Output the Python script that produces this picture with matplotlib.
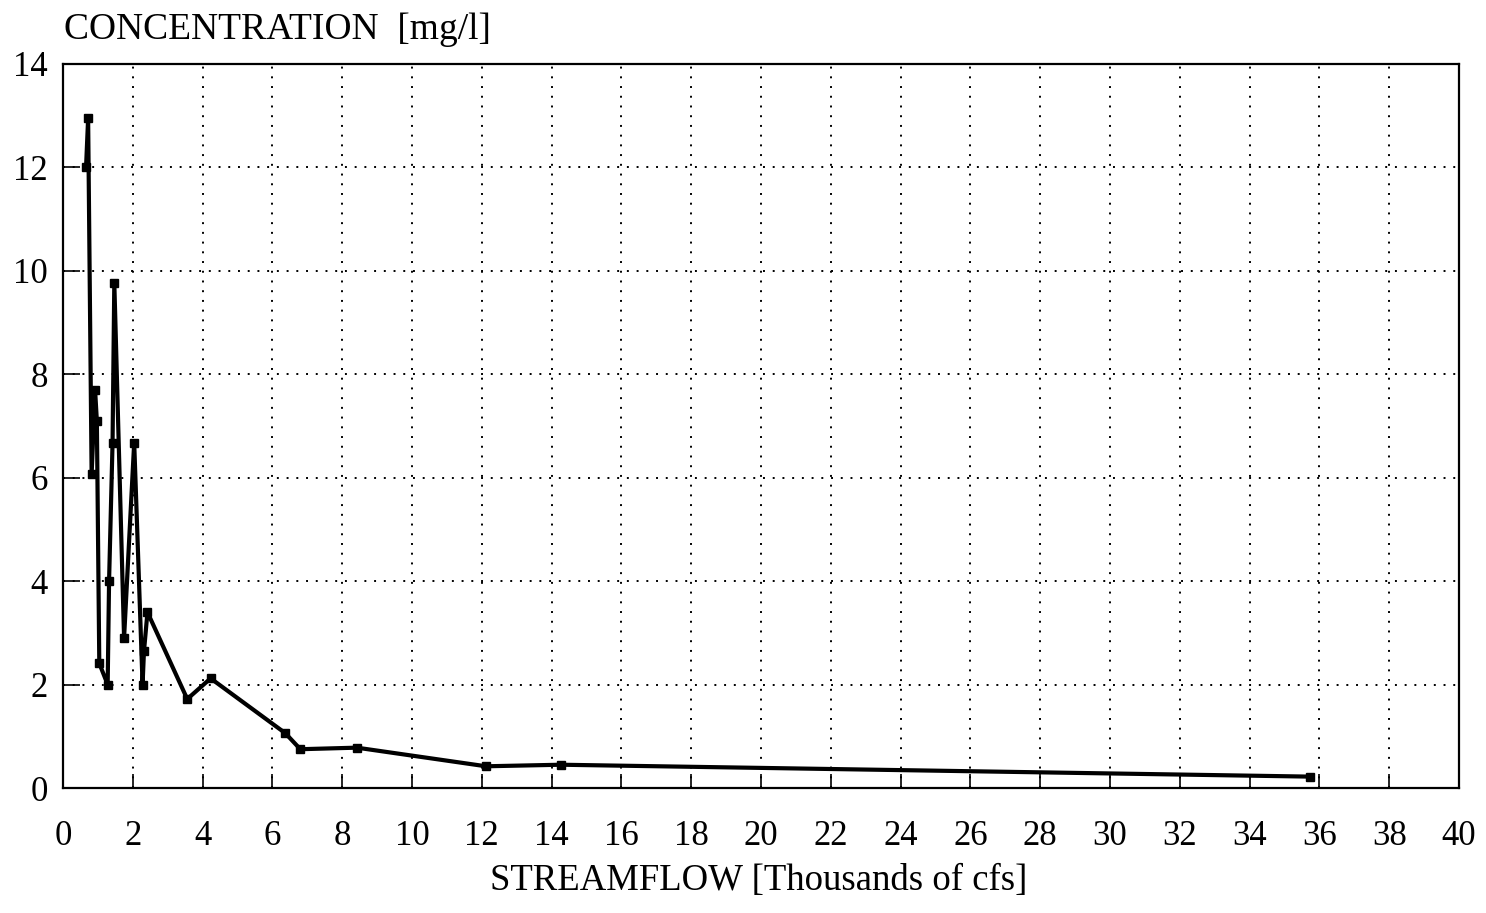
import matplotlib
matplotlib.use("Agg")
import matplotlib.pyplot as plt

streamflow = [0.66, 0.72, 0.82, 0.92, 0.97, 1.04, 1.28, 1.32, 1.42, 1.47, 1.75,
              2.04, 2.28, 2.32, 2.42, 3.56, 4.23, 6.37, 6.80, 8.42, 12.12, 14.27, 35.74]
concentration = [12.0, 12.95, 6.07, 7.69, 7.1, 2.41, 2.0, 4.0, 6.68, 9.77, 2.9,
                 6.68, 2.0, 2.64, 3.40, 1.72, 2.12, 1.06, 0.75, 0.78, 0.42, 0.45, 0.22]

x_ticks = list(range(0, 41, 2))
y_ticks = list(range(0, 15, 2))

plt.rcParams['font.family'] = ['Liberation Serif', 'DejaVu Serif']

fig = plt.figure(figsize=(14.86, 9.13), dpi=100)
ax = fig.add_axes([63/1486, 1-788/913, 1396/1486, 724/913])

ax.plot(streamflow, concentration, color='black', linewidth=3.0,
        marker='s', markersize=6, markerfacecolor='black', markeredgecolor='black')

ax.set_xlim(0, 40)
ax.set_ylim(0, 14)
ax.set_xticks(x_ticks)
ax.set_yticks(y_ticks)
ax.grid(True, which='major', linestyle=(0, (1, 4)), color='black', linewidth=1.4)
ax.tick_params(axis='x', which='major', direction='in', length=10, width=1.2,
               labelsize=25, pad=23, top=False)
ax.tick_params(axis='y', which='major', direction='in', length=12, width=1.2,
               labelsize=25, pad=11, right=False)
for s in ax.spines.values():
    s.set_linewidth(1.6)

fig.text(759/1486, 1-881/913, 'STREAMFLOW [Thousands of cfs]', fontsize=26.5,
         va='center', ha='center')
fig.text(64/1486, 1-30/913, 'CONCENTRATION  [mg/l]', fontsize=27, va='center', ha='left')

fig.savefig('out.png', dpi=100)
